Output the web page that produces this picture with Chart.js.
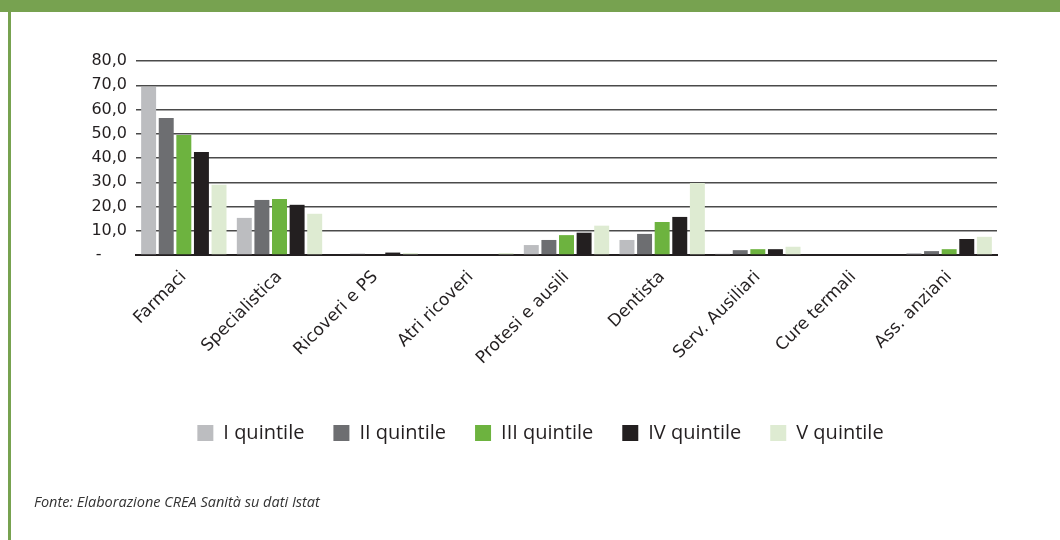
<!DOCTYPE html>
<html>
<head>
<meta charset="utf-8">
<script src="https://cdn.jsdelivr.net/npm/chart.js@4"></script>
<style>
  body { margin: 0; background: #fff; }
  #wrap { position: relative; width: 1060px; height: 540px; overflow: hidden; }
  #topbar { position: absolute; left: 0; top: 0; width: 1060px; height: 12px; background: #77a250; }
  #leftbar { position: absolute; left: 8px; top: 12px; width: 3px; height: 528px; background: #77a250; }
  #box { position: absolute; left: 0; top: 0; width: 1060px; height: 540px; }
  #source { position: absolute; left: 34px; top: 492px; font: italic 14.5px "Open Sans", sans-serif; color: #333; }
</style>
</head>
<body>
<div id="wrap">
  <div id="box"><canvas id="chart" width="1060" height="540"></canvas></div>
  <div id="topbar"></div>
  <div id="leftbar"></div>
  <div id="source">Fonte: Elaborazione CREA Sanità su dati Istat</div>
</div>
<script>
const categories = ["Farmaci", "Specialistica", "Ricoveri e PS", "Atri ricoveri", "Protesi e ausili",
  "Dentista", "Serv. Ausiliari", "Cure termali", "Ass. anziani"];

const quintile1 = [69.3, 15.3, 0.0, 0.0, 4.1, 6.2, 0.5, 0.0, 0.8];
const quintile2 = [56.5, 22.7, 0.5, 0.0, 6.2, 8.7, 2.0, 0.0, 1.6];
const quintile3 = [49.5, 23.1, 0.0, 0.0, 8.2, 13.6, 2.4, 0.0, 2.4];
const quintile4 = [42.5, 20.7, 1.0, 0.0, 9.2, 15.7, 2.4, 0.0, 6.6];
const quintile5 = [29.0, 17.0, 0.8, 0.8, 12.1, 29.7, 3.4, 0.0, 7.5];

const seriesNames = ["I quintile", "II quintile", "III quintile", "IV quintile", "V quintile"];
const colors = ["#bcbdc0", "#6d6e71", "#6db33f", "#231f20", "#deebd2"];

const series = [quintile1, quintile2, quintile3, quintile4, quintile5];

// legend sits centred under the whole page, not under the plot
const legendShift = {
  id: "legendShift",
  afterLayout(chart) {
    chart.legend.left += 42;
    chart.legend.right += 42;
  },
};

new Chart(document.getElementById("chart"), {
  type: "bar",
  data: {
    labels: categories,
    datasets: series.map((values, i) => ({
      label: seriesNames[i],
      data: values,
      backgroundColor: colors[i],
      borderWidth: 0,
      categoryPercentage: 0.92,
      barPercentage: 0.85,
    })),
  },
  options: {
    responsive: false,
    animation: false,
    layout: { padding: { top: 61, right: 63, left: 0, bottom: 87 } },
    plugins: {
      tooltip: { enabled: false },
      legend: {
        position: "bottom",
        labels: {
          boxWidth: 16,
          boxHeight: 16,
          padding: 29,
          color: "#231f20",
          font: { family: "'Open Sans', sans-serif", size: 20 },
        },
      },
    },
    scales: {
      x: {
        grid: { display: false },
        border: { color: "#231f20", width: 2 },
        ticks: {
          minRotation: 45,
          maxRotation: 45,
          padding: 4,
          color: "#231f20",
          font: { family: "'DejaVu Sans', sans-serif", size: 17 },
        },
        afterFit(scale) { scale.height = 139; },
      },
      y: {
        min: 0,
        max: 80,
        border: { display: false },
        grid: { color: "#4a4a4a", lineWidth: 1.5, drawTicks: false },
        ticks: {
          stepSize: 10,
          padding: 9,
          color: "#231f20",
          font: { family: "'DejaVu Sans', sans-serif", size: 16 },
          callback: (v) => v === 0 ? "-\u00a0\u00a0\u00a0\u00a0\u00a0" : v.toFixed(1).replace(".", ","),
        },
        afterFit(scale) { scale.width = 136; },
      },
    },
  },
  plugins: [legendShift],
});
</script>
</body>
</html>
